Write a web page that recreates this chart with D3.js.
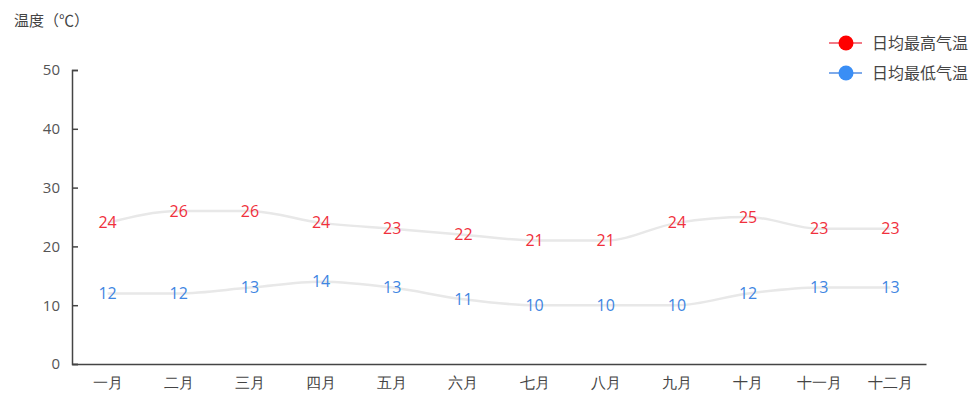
<!DOCTYPE html>
<html>
<head>
<meta charset="utf-8">
<script src="https://cdn.jsdelivr.net/npm/d3@7/dist/d3.min.js"></script>
<style>
  html, body { margin: 0; padding: 0; background: #fff; }
  svg { display: block; font-family: "Noto Sans CJK SC", "Microsoft YaHei", sans-serif; }
</style>
</head>
<body>
<svg id="chart" width="978" height="399"></svg>
<script>
const months = ["一月", "二月", "三月", "四月", "五月", "六月", "七月", "八月", "九月", "十月", "十一月", "十二月"];
const highTemps = [24, 26, 26, 24, 23, 22, 21, 21, 24, 25, 23, 23];
const lowTemps = [12, 12, 13, 14, 13, 11, 10, 10, 10, 12, 13, 13];
const yTicks = [0, 10, 20, 30, 40, 50];
const seriesNames = ["日均最高气温", "日均最低气温"];
const yTitle = "温度（℃）";

const labelColors = ["#f0303c", "#3f86e2"];
const dotColors = ["#ff0000", "#3a8ef5"];
const legendLineColors = ["#f27a86", "#7eaaea"];

const svg = d3.select("#chart");
const margin = { left: 72, right: 52, top: 70, bottom: 35 };
const width = 978, height = 399;

const x = d3.scaleBand().domain(months).range([margin.left, width - margin.right]);
const y = d3.scaleLinear().domain([0, 50]).range([height - margin.bottom, margin.top]);

// y axis: ticks point inward
const yAxis = svg.append("g")
  .attr("transform", `translate(${margin.left},0)`)
  .call(d3.axisLeft(y).tickValues(yTicks).tickSize(-6).tickPadding(12));
yAxis.select(".domain").attr("stroke", "#444").attr("stroke-width", 1.5);
yAxis.selectAll(".tick line").attr("stroke", "#444").attr("stroke-width", 1.5);
yAxis.selectAll(".tick text").attr("fill", "#555").style("font-size", "15px")
  .style("font-family", "'Open Sans', sans-serif");

// x axis without tick marks
const xAxis = svg.append("g")
  .attr("transform", `translate(0,${height - margin.bottom})`)
  .call(d3.axisBottom(x).tickSize(0).tickPadding(13));
xAxis.select(".domain").attr("stroke", "#444").attr("stroke-width", 1.5);
xAxis.selectAll(".tick text").attr("fill", "#444").style("font-size", "15px");

svg.append("text")
  .attr("x", 14).attr("y", 26)
  .attr("fill", "#444").style("font-size", "15px")
  .text(yTitle);

const line = d3.line()
  .x((d, i) => x(months[i]) + x.bandwidth() / 2)
  .y(d => y(d))
  .curve(d3.curveMonotoneX);

[highTemps, lowTemps].forEach((vals, s) => {
  svg.append("path")
    .datum(vals)
    .attr("d", line)
    .attr("fill", "none")
    .attr("stroke", "#e8e8e8")
    .attr("stroke-width", 2.5);

  svg.append("g").selectAll("text")
    .data(vals)
    .join("text")
    .attr("x", (d, i) => x(months[i]) + x.bandwidth() / 2)
    .attr("y", d => y(d))
    .attr("dy", "0.35em")
    .attr("text-anchor", "middle")
    .attr("fill", labelColors[s])
    .style("font-size", "16px")
    .style("font-family", "'Open Sans', sans-serif")
    .text(d => d);
});

// legend
const legend = svg.append("g");
seriesNames.forEach((name, s) => {
  const ly = 43 + s * 30;
  legend.append("line")
    .attr("x1", 829).attr("x2", 862).attr("y1", ly).attr("y2", ly)
    .attr("stroke", legendLineColors[s]).attr("stroke-width", 2);
  legend.append("circle")
    .attr("cx", 846).attr("cy", ly).attr("r", 7.5)
    .attr("fill", dotColors[s]);
  legend.append("text")
    .attr("x", 872).attr("y", ly).attr("dy", "0.35em")
    .attr("fill", "#444").style("font-size", "16px")
    .text(name);
});
</script>
</body>
</html>
